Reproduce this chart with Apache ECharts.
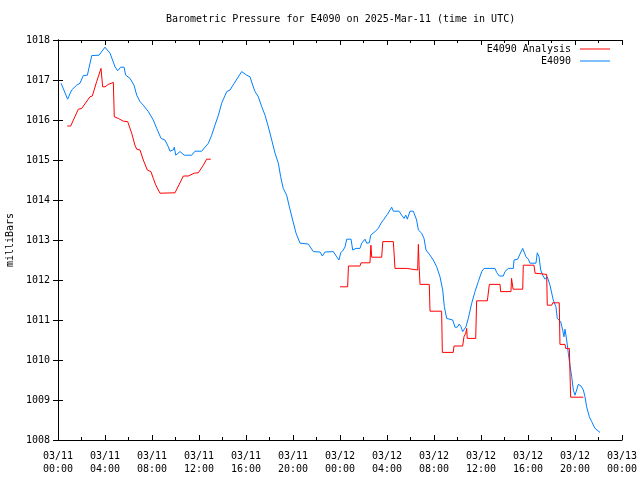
<!DOCTYPE html>
<html>
<head>
<meta charset="utf-8">
<script src="https://cdn.jsdelivr.net/npm/echarts@6/dist/echarts.min.js"></script>
<style>
html,body{margin:0;padding:0;background:#fff;}
#chart{width:640px;height:480px;}
</style>
</head>
<body>
<div id="chart"></div>
<script>
// Hours since 2025-03-11 00:00 UTC
var blueHours = [0.26,0.82,1.16,1.59,1.87,2.15,2.50,2.87,3.49,4.00,4.43,4.85,5.08,5.33,5.62,5.76,6.13,6.47,6.70,6.98,7.26,7.69,8.11,8.40,8.77,9.10,9.39,9.53,9.81,9.90,10.02,10.38,10.75,11.38,11.66,12.23,12.80,13.08,13.36,13.65,13.93,14.36,14.64,15.00,15.63,16.06,16.34,16.57,16.77,17.05,17.34,17.62,17.90,18.19,18.47,18.75,18.95,19.17,19.46,19.69,19.97,20.26,20.60,21.30,21.73,22.30,22.50,22.72,23.43,23.72,23.91,24.06,24.28,24.43,24.57,24.94,25.08,25.36,25.70,25.85,26.13,26.27,26.50,26.61,26.98,27.26,27.49,27.74,28.03,28.40,28.54,29.02,29.25,29.45,29.60,29.73,29.96,30.24,30.38,30.52,30.67,30.95,31.15,31.32,31.66,31.94,32.23,32.51,32.74,32.88,33.08,33.22,33.59,33.79,33.98,34.15,34.30,34.44,34.55,34.72,34.92,35.21,35.49,35.77,36.06,36.26,37.19,37.33,37.56,37.90,38.04,38.33,38.75,38.81,39.12,39.32,39.55,39.66,39.83,40.03,40.17,40.68,40.79,40.94,41.08,41.25,41.45,41.64,41.87,42.15,42.38,42.49,42.78,42.95,43.06,43.15,43.29,43.43,43.57,43.72,43.86,44.00,44.14,44.28,44.51,44.71,44.85,44.99,45.22,45.42,45.70,46.13];
var bluePressure = [1016.92,1016.52,1016.75,1016.87,1016.92,1017.11,1017.12,1017.61,1017.62,1017.82,1017.67,1017.33,1017.23,1017.32,1017.32,1017.12,1017.04,1016.87,1016.62,1016.46,1016.37,1016.21,1016.00,1015.79,1015.54,1015.50,1015.33,1015.22,1015.25,1015.32,1015.12,1015.21,1015.12,1015.12,1015.22,1015.22,1015.42,1015.62,1015.87,1016.12,1016.42,1016.71,1016.75,1016.92,1017.21,1017.12,1017.08,1016.87,1016.71,1016.58,1016.33,1016.12,1015.83,1015.50,1015.17,1014.92,1014.58,1014.29,1014.12,1013.83,1013.50,1013.17,1012.92,1012.90,1012.71,1012.70,1012.60,1012.70,1012.71,1012.58,1012.50,1012.68,1012.75,1012.83,1013.02,1013.02,1012.75,1012.79,1012.79,1012.92,1013.02,1012.92,1012.93,1013.12,1013.21,1013.29,1013.42,1013.52,1013.64,1013.82,1013.72,1013.72,1013.62,1013.54,1013.62,1013.52,1013.72,1013.72,1013.67,1013.50,1013.25,1013.17,1013.04,1012.75,1012.62,1012.50,1012.33,1012.08,1011.75,1011.33,1011.04,1011.00,1011.00,1010.82,1010.82,1010.90,1010.83,1010.71,1010.75,1010.83,1011.04,1011.42,1011.71,1011.96,1012.21,1012.29,1012.29,1012.19,1012.10,1012.10,1012.21,1012.29,1012.29,1012.50,1012.52,1012.65,1012.79,1012.79,1012.58,1012.52,1012.42,1012.42,1012.68,1012.58,1012.25,1012.12,1012.02,1012.08,1011.87,1011.50,1011.33,1011.04,1010.96,1010.75,1010.58,1010.77,1010.50,1010.17,1009.87,1009.58,1009.25,1009.12,1009.25,1009.39,1009.35,1009.25,1009.08,1008.83,1008.58,1008.46,1008.29,1008.19];

var redHours1 = [0.79,1.08,1.73,2.02,2.72,2.92,3.29,3.66,3.80,4.00,4.28,4.71,4.79,5.13,5.56,5.93,6.27,6.55,6.70,6.98,7.26,7.60,7.91,8.11,8.31,8.68,9.96,10.67,11.09,11.60,11.94,12.37,12.65,13.00];
var redPressure1 = [1015.85,1015.85,1016.27,1016.29,1016.58,1016.60,1016.96,1017.29,1016.83,1016.83,1016.89,1016.94,1016.08,1016.04,1015.97,1015.96,1015.67,1015.37,1015.27,1015.25,1015.00,1014.75,1014.71,1014.54,1014.38,1014.17,1014.18,1014.60,1014.60,1014.67,1014.68,1014.87,1015.02,1015.02];
var redHours2 = [24.00,24.65,24.72,25.70,25.79,26.55,26.63,26.70,27.55,27.64,28.54,28.68,29.67,29.75,30.61,30.67,30.73,30.81,31.60,31.66,32.65,32.71,33.64,33.70,34.44,34.55,34.70,34.78,34.83,35.55,35.63,36.54,36.71,37.62,37.67,38.55,38.60,38.73,39.55,39.60,40.51,40.60,41.59,41.64,42.02,42.10,42.66,42.72,43.15,43.21,43.52,43.57,43.63,43.80,44.71];
var redPressure2 = [1011.83,1011.83,1012.35,1012.35,1012.43,1012.43,1012.87,1012.57,1012.57,1012.96,1012.96,1012.29,1012.29,1012.25,1012.25,1012.89,1012.37,1011.89,1011.89,1011.22,1011.22,1010.19,1010.19,1010.35,1010.35,1010.58,1010.67,1010.79,1010.54,1010.54,1011.48,1011.48,1011.89,1011.89,1011.71,1011.71,1012.04,1011.77,1011.77,1012.37,1012.37,1012.17,1012.14,1011.37,1011.37,1011.43,1011.43,1010.39,1010.39,1010.29,1010.29,1009.71,1009.07,1009.04,1009.07];

var xTickHours = [0,4,8,12,16,20,24,28,32,36,40,44,48];
var seriesNames = ['E4090 Analysis', 'E4090'];
var titleText = 'Barometric Pressure for E4090 on 2025-Mar-11 (time in UTC)';
var yAxisTitle = 'milliBars';

function zip(a, b) { return a.map(function (v, i) { return [v, b[i]]; }); }
var blueData = zip(blueHours, bluePressure);
var redData = zip(redHours1, redPressure1).concat([[18, '-']]).concat(zip(redHours2, redPressure2));

function pad(n) { return (n < 10 ? '0' : '') + n; }
function xLabel(v) {
  var day = 11 + Math.floor(v / 24);
  var hh = Math.round(v % 24);
  return '03/' + pad(day) + '\n' + pad(hh) + ':00';
}

var FONT = 'DejaVu Sans Mono';
var chart = echarts.init(document.getElementById('chart'), null, {renderer: 'canvas'});
var lineAx = {show: true, lineStyle: {color: '#000', width: 1}};
var tickIn = {show: true, inside: true, length: 5, lineStyle: {color: '#000'}};
chart.setOption({
  animation: false,
  backgroundColor: '#fff',
  textStyle: {fontFamily: FONT},
  graphic: [
    {type: 'text', left: 340 - 174, top: 14, style: {text: titleText, font: '10px "DejaVu Sans Mono"', fill: '#000'}}
  ],
  grid: {left: 58, right: 18, top: 40, bottom: 40, containLabel: false, outerBoundsMode: 'none'},
  legend: [
    {data: [seriesNames[0]], right: 30, top: 44, padding: 0, align: 'right', itemWidth: 30, itemHeight: 1,
     icon: 'rect', itemGap: 0, textStyle: {fontFamily: FONT, fontSize: 10, color: '#000', padding: [0, 4, 0, 0]}},
    {data: [seriesNames[1]], right: 30, top: 56, padding: 0, align: 'right', itemWidth: 30, itemHeight: 1,
     icon: 'rect', itemGap: 0, textStyle: {fontFamily: FONT, fontSize: 10, color: '#000', padding: [0, 4, 0, 0]}}
  ],
  xAxis: [
    {type: 'value', min: xTickHours[0], max: xTickHours[xTickHours.length - 1], interval: 4, position: 'bottom',
     axisLine: lineAx, axisTick: tickIn, minorTick: {show: true, splitNumber: 2, length: 3, lineStyle: {color: '#000'}},
     splitLine: {show: false}, minorSplitLine: {show: false},
     axisLabel: {formatter: xLabel, color: '#000', fontFamily: FONT, fontSize: 10, margin: 10, lineHeight: 13}},
    {type: 'value', min: 0, max: 48, interval: 4, position: 'top',
     axisLine: lineAx, axisTick: tickIn, minorTick: {show: true, splitNumber: 2, length: 3, lineStyle: {color: '#000'}},
     splitLine: {show: false}, axisLabel: {show: false}}
  ],
  yAxis: [
    {type: 'value', min: 1008, max: 1018, interval: 1, position: 'left',
     axisLine: lineAx, axisTick: tickIn, splitLine: {show: false},
     axisLabel: {color: '#000', fontFamily: FONT, fontSize: 10, margin: 8, formatter: function (v) { return String(v); }},
     name: yAxisTitle, nameLocation: 'middle', nameRotate: 90, nameGap: 43,
     nameTextStyle: {color: '#000', fontFamily: FONT, fontSize: 10}},
    {type: 'value', min: 1008, max: 1018, interval: 1, position: 'right',
     axisLine: lineAx, axisTick: tickIn, splitLine: {show: false}, axisLabel: {show: false}}
  ],
  series: [
    {name: seriesNames[0], type: 'line', data: redData, showSymbol: false, symbol: 'none', connectNulls: false,
     color: '#ff0000', lineStyle: {color: '#ff0000', width: 1}, z: 3},
    {name: seriesNames[1], type: 'line', data: blueData, showSymbol: false, symbol: 'none',
     color: '#0080ff', lineStyle: {color: '#0080ff', width: 1}, z: 2}
  ]
});
</script>
</body>
</html>
